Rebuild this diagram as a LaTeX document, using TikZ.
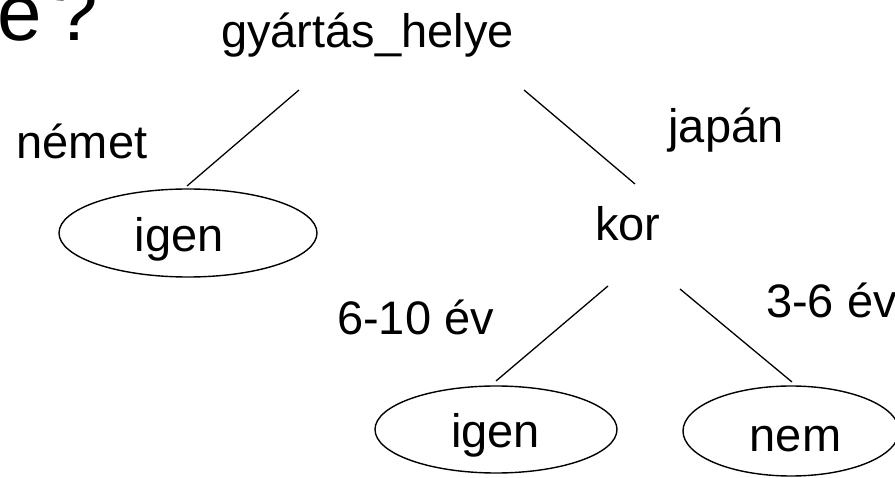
\documentclass[tikz,border=0pt]{standalone}
\usepackage{fontspec}
\setmainfont{Liberation Sans}
\usetikzlibrary{shapes.geometric}

\begin{document}
\begin{tikzpicture}[x=1pt,y=-1pt,
  lbl/.style={inner sep=0pt,font=\fontsize{47}{56}\selectfont},
  leaf/.style={draw,ellipse,line width=1.4pt,inner sep=0pt},
  edge/.style={line width=1.3pt},
  title/.style={inner sep=0pt,font=\fontsize{80}{96}\selectfont}]
  \useasboundingbox (0,0) rectangle (895,478);
  \clip (0,0) rectangle (895,478);

  % tail of the slide title
  \node[title,anchor=base west] (ttl) at (-3,41) {e\hspace{12pt}?};

  % root test and the age test
  \node[lbl,anchor=base] (root) at (367.5,48) {gyártás\_helye};
  \node[lbl,anchor=base] (kor) at (628,241) {kor};

  % leaves
  \node[leaf,minimum width=258pt,minimum height=88pt] (leafA) at (188,233) {};
  \node[lbl,anchor=base] (leafAt) at (179,252) {igen};
  \node[leaf,minimum width=242pt,minimum height=87pt] (leafB) at (496,429.5) {};
  \node[lbl,anchor=base] (leafBt) at (495.5,448) {igen};
  \node[leaf,minimum width=216pt,minimum height=90pt] (leafC) at (791,431) {};
  \node[lbl,anchor=base] (leafCt) at (795.5,452) {nem};

  % branch labels
  \node[lbl,anchor=base] (eNemet) at (82,159) {német};
  \node[lbl,anchor=base] (eJapan) at (726,143) {japán};
  \node[lbl,anchor=base] (eYoung) at (415.5,335) {6-10 év};
  \node[lbl,anchor=base west] (eOld) at (766,318) {3-6 év};

  % branch end points
  \coordinate (rootL) at (299,90);
  \coordinate (rootR) at (524,90);
  \coordinate (korL) at (608,286);
  \coordinate (korR) at (680,289);
  \coordinate (leafAtop) at (187,186);
  \coordinate (korTop) at (635,184);
  \coordinate (leafBtop) at (496,381);
  \coordinate (leafCtop) at (792,382);

  \draw[edge] (rootL) -- (leafAtop);
  \draw[edge] (rootR) -- (korTop);
  \draw[edge] (korL) -- (leafBtop);
  \draw[edge] (korR) -- (leafCtop);
\end{tikzpicture}
\end{document}
